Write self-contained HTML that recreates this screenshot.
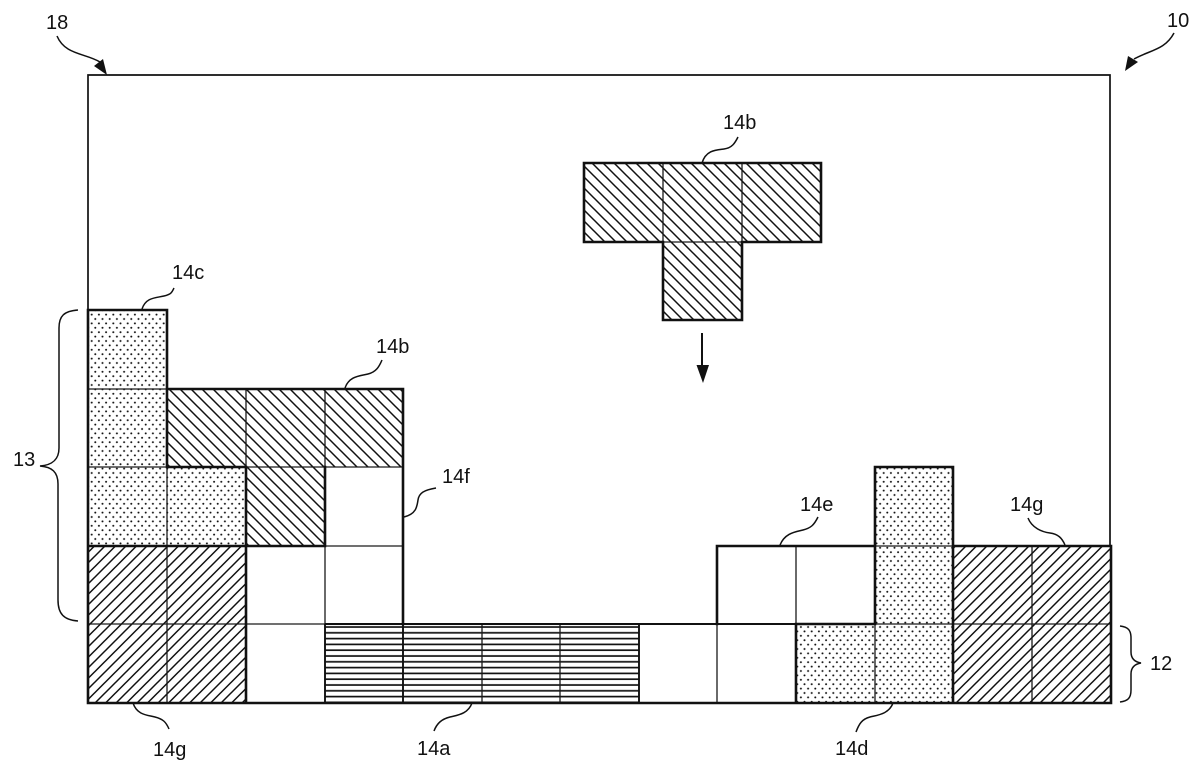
<!DOCTYPE html>
<html>
<head>
<meta charset="utf-8">
<style>
html,body{margin:0;padding:0;background:#fff;width:1200px;height:772px;overflow:hidden}
svg{display:block}
text{font-family:"Liberation Sans",sans-serif;font-size:20px;fill:#111}
.l{fill:none;stroke:#111;stroke-width:1.5}
.t{stroke:#1a1a1a;stroke-width:1.3;fill:none}
.m{stroke:#111;stroke-width:1.9;fill:none}
.o{stroke:#111;stroke-width:2.6;fill:none;stroke-linecap:square}
</style>
</head>
<body>
<svg width="1200" height="772" viewBox="0 0 1200 772" xmlns="http://www.w3.org/2000/svg">
<defs>
<pattern id="b" width="11" height="11" patternUnits="userSpaceOnUse">
<path d="M-2 -2L13 13M-13 -2L2 13M9 -2L24 13" stroke="#111" stroke-width="1.5"/>
</pattern>
<pattern id="g" width="10.500" height="10.500" patternUnits="userSpaceOnUse">
<path d="M-2 12.500L12.500 -2M-12.500 12.500L2 -2M8.500 12.500L23 -2" stroke="#111" stroke-width="1.5"/>
</pattern>
<pattern id="a" width="10" height="5.800" patternUnits="userSpaceOnUse" y="624">
<path d="M0 3H10" stroke="#111" stroke-width="1.7"/>
</pattern>
<pattern id="c" width="7.200" height="8.800" patternUnits="userSpaceOnUse">
<circle cx="1.700" cy="2.200" r="1" fill="#111"/>
<circle cx="5.300" cy="6.600" r="1" fill="#111"/>
</pattern>
</defs>

<rect x="88" y="310" width="79" height="157" fill="url(#c)"/>
<rect x="88" y="467" width="158" height="79" fill="url(#c)"/>
<rect x="167" y="389" width="236" height="78" fill="url(#b)"/>
<rect x="246" y="467" width="79" height="79" fill="url(#b)"/>
<rect x="88" y="546" width="158" height="157" fill="url(#g)"/>
<rect x="325" y="624" width="314" height="79" fill="url(#a)"/>
<rect x="796" y="624" width="157" height="79" fill="url(#c)"/>
<rect x="875" y="467" width="78" height="157" fill="url(#c)"/>
<rect x="953" y="546" width="158" height="157" fill="url(#g)"/>
<rect x="584" y="163" width="237" height="79" fill="url(#b)"/>
<rect x="663" y="242" width="79" height="78" fill="url(#b)"/>

<path class="m" style="stroke-width:1.700" d="M88 310V75H1110V546"/>

<path class="t" d="M88 389H167M88 467H167M246 467H403M88 624H325M953 624H1111M246 546H403M875 546H953M875 624H953M167 467V703M325 546V624M482 624V703M560 624V703M717 624V703M796 546V624M875 624V703M1032 546V703M246 389V467M325 389V467"/>
<path class="m" d="M325 624H796M325 624V703M403 624V703M639 624V703"/>
<path class="t" d="M663 163V242M742 163V242M663 242H742"/>

<path class="o" d="M88 703V310H167V467H246V703M167 389H403V624M88 703H1111V546H953V467H875V624H796V703M88 546H325V467M717 546H875M717 546V624M953 546V703"/>
<path class="o" d="M584 163H821V242H742V320H663V242H584Z"/>

<path class="l" d="M702 163C706 150 716 150 724 149S735 143 738 137"/>
<path class="l" d="M142 309C146 297 156 298 164 296S172 292 174 288"/>
<path class="l" d="M345 388C349 376 360 376 368 374S379 367 382 360"/>
<path class="l" d="M404 517C416 514 417 507 418 500S424 490 436 488"/>
<path class="l" d="M780 545C785 533 795 532 803 530S814 525 818 517"/>
<path class="l" d="M1028 518C1032 528 1042 532 1050 533S1062 538 1065 545"/>
<path class="l" d="M893 703C889 714 878 715 870 717S859 724 856 732"/>
<path class="l" d="M133 703C137 715 147 715 155 717S166 722 169 729"/>
<path class="l" d="M472 703C468 714 458 715 450 717S437 723 434 731"/>

<path class="l" d="M78 310C64 311 59 316 59 328L59 448C59 460 52 465 40 466C52 467 58 472 58 484L58 600C58 614 64 620 78 621"/>
<path class="l" d="M1120 626C1128 627 1131 630 1131 638L1131 652C1131 659 1135 662 1141 663C1135 664 1131 667 1131 674L1131 690C1131 698 1128 701 1120 702"/>

<path class="l" d="M57 36C65 55 85 53 100 62"/>
<path d="M107 75L94 66L103 59Z" fill="#111"/>
<path class="l" d="M1174 33C1165 50 1150 50 1134 59"/>
<path d="M1125 71L1128 56L1138 62Z" fill="#111"/>
<path d="M702 333V367" stroke="#111" stroke-width="2" fill="none"/>
<path d="M696.500 365H709L703 383Z" fill="#111"/>

<text x="46" y="29">18</text>
<text x="1167" y="27">10</text>
<text x="723" y="129">14b</text>
<text x="172" y="279">14c</text>
<text x="376" y="353">14b</text>
<text x="442" y="483">14f</text>
<text x="13" y="466">13</text>
<text x="800" y="511">14e</text>
<text x="1010" y="511">14g</text>
<text x="1150" y="670">12</text>
<text x="835" y="755">14d</text>
<text x="153" y="756">14g</text>
<text x="417" y="755">14a</text>
</svg>
</body>
</html>
